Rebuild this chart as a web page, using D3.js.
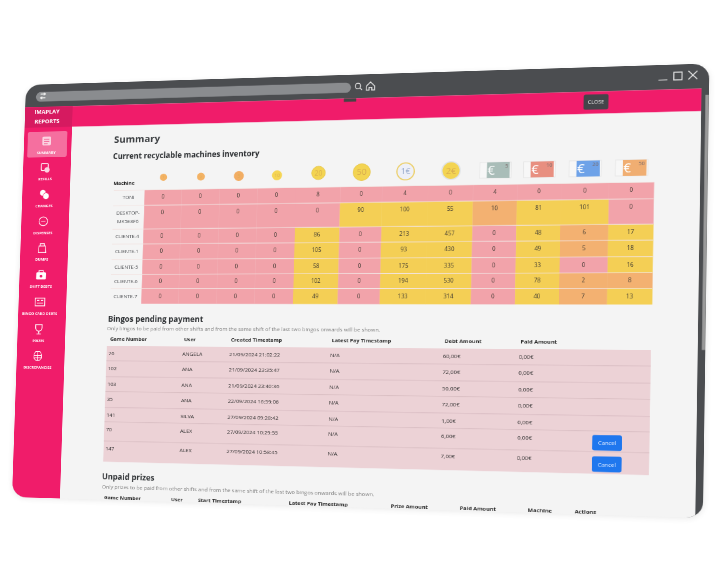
<!DOCTYPE html>
<html>
<head>
<meta charset="utf-8">
<script src="https://cdn.jsdelivr.net/npm/d3@7"></script>
<style>
html,body{margin:0;padding:0;background:#fff;width:720px;height:580px;overflow:hidden}
#win{position:absolute;left:0;top:0;width:1000px;height:640px;transform-origin:0 0}
svg{overflow:visible;display:block;filter:blur(.45px)}
text{font-family:"Open Sans",sans-serif}
</style>
</head>
<body>
<div id="win"></div>
<script>
// inventory table
const machines = ["TONI", "DESKTOP-|MK5E8F6", "CLIENTE-4", "CLIENTE-1", "CLIENTE-5", "CLIENTE-6", "CLIENTE-7"];
const denominations = ["1", "2", "5", "10", "20", "50", "1€", "2€", "5", "10", "20", "50"];
const inventory = [
  [0, 0, 0, 0, 8, 0, 4, 0, 4, 0, 0, 0],
  [0, 0, 0, 0, 0, 90, 100, 55, 10, 81, 101, 0],
  [0, 0, 0, 0, 86, 0, 213, 457, 0, 48, 6, 17],
  [0, 0, 0, 0, 105, 0, 93, 430, 0, 49, 5, 18],
  [0, 0, 0, 0, 58, 0, 175, 335, 0, 33, 0, 16],
  [0, 0, 0, 0, 102, 0, 194, 530, 0, 78, 2, 8],
  [0, 0, 0, 0, 49, 0, 133, 314, 0, 40, 7, 13]
];
// 0 empty, 1 low, 2 ok
const inventoryLevel = [
  [0, 0, 0, 0, 0, 0, 0, 0, 0, 0, 0, 0],
  [0, 0, 0, 0, 0, 2, 2, 2, 1, 2, 2, 0],
  [0, 0, 0, 0, 2, 0, 2, 2, 0, 2, 1, 2],
  [0, 0, 0, 0, 2, 0, 2, 2, 0, 2, 1, 2],
  [0, 0, 0, 0, 2, 0, 2, 2, 0, 2, 0, 2],
  [0, 0, 0, 0, 2, 0, 2, 2, 0, 2, 1, 1],
  [0, 0, 0, 0, 2, 0, 2, 2, 0, 2, 1, 2]
];

// bingos table
const bingoHeaders = ["Game Number", "User", "Created Timestamp", "Latest Pay Timestamp", "Debt Amount", "Paid Amount"];
const bingoGames = ["76", "102", "103", "35", "141", "70", "147"];
const bingoUsers = ["ANGELA", "ANA", "ANA", "ANA", "SILVA", "ALEX", "ALEX"];
const bingoCreated = ["21/09/2024 21:02:22", "21/09/2024 23:35:47", "21/09/2024 23:40:36", "22/09/2024 16:59:06", "27/09/2024 09:28:42", "27/09/2024 10:29:55", "27/09/2024 10:58:45"];
const bingoLatest = ["N/A", "N/A", "N/A", "N/A", "N/A", "N/A", "N/A"];
const bingoDebt = ["60,00€", "72,00€", "50,00€", "72,00€", "1,00€", "6,00€", "7,00€"];
const bingoPaid = ["0,00€", "0,00€", "0,00€", "0,00€", "0,00€", "0,00€", "0,00€"];
const bingoCancel = [false, false, false, false, false, true, true];

const prizeHeaders = ["Game Number", "User", "Start Timestamp", "Latest Pay Timestamp", "Prize Amount", "Paid Amount", "Machine", "Actions"];
const navLabels = ["SUMMARY", "REFILLS", "CHANGES", "DISPENSES", "DUMPS", "SHIFT DEBTS", "BINGO CARD DEBTS", "PRIZES", "DISCREPANCIES"];

// the flat page is W x H, a homography tilts it onto the photographed window
const W = 1000, H = 640;
const corners = [[26, 85], [709.5, 63.5], [703, 518], [12, 497]];
const [p0, p1, p2, p3] = corners;
const den = (p1[0]-p2[0])*(p3[1]-p2[1]) - (p3[0]-p2[0])*(p1[1]-p2[1]);
const sx = p0[0]-p1[0]+p2[0]-p3[0], sy = p0[1]-p1[1]+p2[1]-p3[1];
const g0 = (sx*(p3[1]-p2[1]) - (p3[0]-p2[0])*sy) / den;
const h0 = ((p1[0]-p2[0])*sy - sx*(p1[1]-p2[1])) / den;
const m = {
  a: (p1[0]-p0[0]+g0*p1[0])/W, b: (p3[0]-p0[0]+h0*p3[0])/H, c: p0[0],
  d: (p1[1]-p0[1]+g0*p1[1])/W, e: (p3[1]-p0[1]+h0*p3[1])/H, f: p0[1],
  g: g0/W, h: h0/H
};
d3.select("#win").style("transform",
  `matrix3d(${m.a},${m.d},0,${m.g},${m.b},${m.e},0,${m.h},0,0,1,0,${m.c},${m.f},0,1)`);

// picture position -> flat page position
function at(px, py) {
  const A = m.a-m.g*px, B = m.b-m.h*px, C = px-m.c;
  const D = m.d-m.g*py, E = m.e-m.h*py, F = py-m.f;
  const q = A*E-B*D;
  return [(C*E-B*F)/q, (A*F-C*D)/q];
}
const X = (px, py) => at(px, py)[0];
const Y = (px, py) => at(px, py)[1];

const svg = d3.select("#win").append("svg").attr("width", W).attr("height", H);
const defs = svg.append("defs");
defs.append("clipPath").attr("id", "frame").append("rect")
  .attr("width", W).attr("height", H).attr("rx", 22);
defs.append("filter").attr("id", "soft").attr("x", "-5%").attr("y", "-5%").attr("width", "110%").attr("height", "110%")
  .append("feGaussianBlur").attr("stdDeviation", 4);

svg.append("rect").attr("x", -1).attr("y", 2).attr("width", W+2).attr("height", H)
  .attr("rx", 22).attr("fill", "#000").attr("opacity", .08).attr("filter", "url(#soft)");

const page = svg.append("g").attr("clip-path", "url(#frame)");

const barY = Y(365, 98), headY = Y(400, 118.5);
const sideX = X(66, 312), rightX = X(698.5, 300);

page.append("rect").attr("width", W).attr("height", H).attr("fill", "#4b4d50");
page.append("rect").attr("x", 0).attr("y", barY).attr("width", rightX).attr("height", H-barY).attr("fill", "#f4f4f4");
page.append("rect").attr("x", 0).attr("y", barY).attr("width", rightX).attr("height", headY-barY).attr("fill", "#f01c6a");
page.append("rect").attr("x", 0).attr("y", barY).attr("width", sideX).attr("height", H-barY).attr("fill", "#f01c6a");
page.append("rect").attr("x", 0).attr("y", barY).attr("width", sideX).attr("height", headY-barY).attr("fill", "#d61a60");

// scrollbar on the dark strip
page.append("rect").attr("x", X(704, 200)).attr("y", Y(704, 95)).attr("width", 4.5)
  .attr("height", Y(702, 350)-Y(704, 95)).attr("fill", "#9a9a9a");

// address bar
const barTop = at(36, 97);
page.append("rect").attr("x", barTop[0]).attr("y", barTop[1]-7.5)
  .attr("width", X(351, 86)-barTop[0]).attr("height", 15).attr("rx", 7.5).attr("fill", "#8a8c8f");
const swapIcon = at(43, 96);
page.append("path").attr("transform", `translate(${swapIcon})`)
  .attr("d", "M-4,-3H4M1,-5L4,-3L1,-1M4,3H-4M-1,1L-4,3L-1,5")
  .attr("fill", "none").attr("stroke", "#eee").attr("stroke-width", 1.5);

const chrome = page.append("g").attr("fill", "none").attr("stroke", "#e6e6e6").attr("stroke-width", 1.4);
const lens = at(358, 86);
chrome.append("path").attr("transform", `translate(${lens})`).attr("d", "M2.5,2.5L6,6");
chrome.append("circle").attr("transform", `translate(${lens})`).attr("r", 4);
const home = at(370.5, 86);
chrome.append("path").attr("transform", `translate(${home})`).attr("d", "M-6,0L0,-6L6,0V6H2V2H-2V6H-6Z");
const minBtn = at(663, 80), maxBtn = at(678, 76), closeBtn = at(693, 75);
chrome.append("path").attr("transform", `translate(${minBtn})`).attr("d", "M-6,0H6");
chrome.append("rect").attr("transform", `translate(${maxBtn})`).attr("x", -5.5).attr("y", -5.5).attr("width", 11).attr("height", 11);
chrome.append("path").attr("transform", `translate(${closeBtn})`).attr("d", "M-6,-6L6,6M6,-6L-6,6");

// small tab under the address bar and the close button
const tab = at(350, 100);
page.append("rect").attr("x", tab[0]-9).attr("y", barY).attr("width", 18).attr("height", 5).attr("fill", "#444");
const closeAt = at(596, 102);
page.append("rect").attr("x", closeAt[0]-17).attr("y", closeAt[1]-11).attr("width", 34).attr("height", 22)
  .attr("rx", 3).attr("fill", "#44454a");
page.append("text").attr("x", closeAt[0]).attr("y", closeAt[1]+2.5).attr("text-anchor", "middle")
  .attr("font-size", 7.5).attr("fill", "#eee").text("CLOSE");

// logo
const logo = page.append("g").attr("fill", "#fff").attr("font-weight", 700).attr("font-size", 9).attr("text-anchor", "middle");
logo.append("text").attr("x", X(47, 112)).attr("y", Y(47, 112)+3).text("IMAPLAY");
logo.append("text").attr("x", X(47, 121.5)).attr("y", Y(47, 121.5)+3).text("REPORTS");

// sidebar
const navY = d3.scalePoint().domain(navLabels).range([Y(45, 141), Y(39, 356)]);
const navX = X(43, 250);
const summaryBox = at(28, 132);
page.append("rect").attr("x", summaryBox[0]).attr("y", summaryBox[1])
  .attr("width", X(67, 145)-summaryBox[0]).attr("height", 40).attr("rx", 3).attr("fill", "#f56f9f");

const navIcons = [
  g => { g.append("rect").attr("x", -8).attr("y", -8).attr("width", 16).attr("height", 16).attr("rx", 2).attr("fill", "#fbd3e1");
         g.append("path").attr("d", "M-5,-3H5M-5,1H5M-5,5H2").attr("stroke", "#f56f9f").attr("stroke-width", 1.5); },
  g => { g.append("rect").attr("x", -8).attr("y", -8).attr("width", 13).attr("height", 13).attr("rx", 2).attr("fill", "none").attr("stroke", "#fff").attr("stroke-width", 1.5);
         g.append("circle").attr("cx", 3).attr("cy", 4).attr("r", 5).attr("fill", "#fbd3e1"); },
  g => { g.append("circle").attr("cx", -3).attr("cy", -3).attr("r", 5.5).attr("fill", "#fff");
         g.append("circle").attr("cx", 3).attr("cy", 3).attr("r", 6).attr("fill", "#fff").attr("stroke", "#f01c6a"); },
  g => { g.append("circle").attr("r", 8).attr("fill", "none").attr("stroke", "#fff").attr("stroke-width", 1.4);
         g.append("path").attr("d", "M-4,0H4").attr("stroke", "#fff").attr("stroke-width", 1.4); },
  g => { g.append("path").attr("d", "M-6,-4H6L7,8H-7ZM-4,-4V-8H4V-4").attr("fill", "none").attr("stroke", "#fff").attr("stroke-width", 1.4); },
  g => { g.append("rect").attr("x", -9).attr("y", -5).attr("width", 18).attr("height", 13).attr("rx", 2).attr("fill", "#fff");
         g.append("path").attr("d", "M-4,-5V-8H4V-5").attr("fill", "none").attr("stroke", "#fff").attr("stroke-width", 1.5);
         g.append("circle").attr("cy", 2).attr("r", 2.5).attr("fill", "#f01c6a"); },
  g => { g.append("rect").attr("x", -9).attr("y", -7).attr("width", 18).attr("height", 14).attr("fill", "none").attr("stroke", "#fff").attr("stroke-width", 1.4);
         g.append("path").attr("d", "M-6,-3H-1M2,-3H6M-6,2H6").attr("stroke", "#fff").attr("stroke-width", 1.4); },
  g => { g.append("path").attr("d", "M-6,-8H6V-2A6,6 0 0 1 -6,-2ZM0,4V8M-4,9H4").attr("fill", "none").attr("stroke", "#fff").attr("stroke-width", 1.5); },
  g => { g.append("path").attr("d", "M-4,-8H4L7,-3V4L3,8H-3L-7,4V-3ZM-7,-1H7M-7,3H7M0,-8V8").attr("fill", "none").attr("stroke", "#fff").attr("stroke-width", 1.2); }
];
navLabels.forEach((label, i) => {
  const shift = -i*0.35;
  const g = page.append("g").attr("transform", `translate(${navX+shift},${navY(label)}) scale(.85)`);
  navIcons[i](g);
  page.append("text").attr("x", navX+shift).attr("y", navY(label)+20).attr("text-anchor", "middle")
    .attr("font-size", 5.8).attr("font-weight", 700).attr("fill", "#fff").text(label);
});

// titles
function title(px, py, size, txt, weight, color) {
  const p = at(px, py);
  page.append("text").attr("x", p[0]).attr("y", p[1]).attr("font-size", size)
    .attr("font-weight", weight).attr("fill", color).text(txt);
}
title(114, 143, 15, "Summary", 700, "#3a3d40");
title(113, 159, 11.6, "Current recyclable machines inventory", 700, "#2f3235");
title(108, 322, 11.9, "Bingos pending payment", 700, "#2f3235");
title(107, 330.5, 8, "Only bingos to be paid from other shifts and from the same shift of the last two bingos onwards will be shown.", 400, "#7f7f7f");
title(102, 479, 11.9, "Unpaid prizes", 700, "#2f3235");
title(102, 488.5, 8, "Only prizes to be paid from other shifts and from the same shift of the last two bingos onwards will be shown.", 400, "#7f7f7f");

// inventory table scales
const colPx = [143, 180, 218, 256, 294.5, 339, 381, 427, 472, 516, 560, 608, 653];
const rowPx = [186, 202, 226.5, 242, 258, 273.5, 288.5, 304];
const colX = d3.scaleLinear().domain(d3.range(colPx.length)).range(colPx.map(x => X(x, 245)));
const rowY = d3.scaleLinear().domain(d3.range(rowPx.length)).range(rowPx.map(y => Y(400, y)));
const levelColor = d3.scaleOrdinal().domain([0, 1, 2]).range(["#f2a3aa", "#f3b171", "#f4cf55"]);

const cells = inventory.flatMap((row, r) => row.map((v, c) => ({r, c, v, level: inventoryLevel[r][c]})));
page.append("g").selectAll("rect").data(cells).join("rect")
  .attr("x", d => colX(d.c)).attr("y", d => rowY(d.r))
  .attr("width", d => colX(d.c+1)-colX(d.c)+.3).attr("height", d => rowY(d.r+1)-rowY(d.r)+.3)
  .attr("fill", d => levelColor(d.level));
page.append("g").selectAll("text").data(cells).join("text")
  .attr("x", d => (colX(d.c)+colX(d.c+1))/2).attr("y", d => rowY(d.r)+14)
  .attr("text-anchor", "middle").attr("font-size", 8.2).attr("fill", "#3f3a32").text(d => d.v);

const labelLeft = X(112, 245);
page.append("g").selectAll("line").data(d3.range(machines.length)).join("line")
  .attr("x1", labelLeft).attr("x2", colX(12)).attr("y1", d => rowY(d)).attr("y2", d => rowY(d))
  .attr("stroke", "#f2e4e2").attr("stroke-width", 1);

const labelX = X(127, 245);
machines.forEach((name, r) => {
  name.split("|").forEach((part, k) => {
    page.append("text").attr("x", labelX).attr("y", rowY(r)+14+k*13).attr("text-anchor", "middle")
      .attr("font-size", 7.8).attr("fill", "#484b4f").text(part);
  });
});
const machineHead = at(124, 185);
page.append("text").attr("x", machineHead[0]).attr("y", machineHead[1]).attr("text-anchor", "middle")
  .attr("font-size", 7.8).attr("font-weight", 700).attr("fill", "#222").text("Machine");

// coins and notes above the columns
const iconY = Y(400, 171.5);
const coinFill = ["#f3b264", "#f3b264", "#f2ad63", "#f5d555", "#f3d452", "#f3d452", "#eef0f8", "#f3d452"];
const coinStroke = ["none", "none", "none", "none", "#e8c84c", "#e8c84c", "#eccf6a", "#dfe3e6"];
const coinR = d3.scaleOrdinal().domain(d3.range(8)).range([5.5, 6, 7.5, 7.5, 10, 12.5, 12.5, 13]);
const coinG = page.append("g");
denominations.slice(0, 8).forEach((label, i) => {
  const cx = (colX(i)+colX(i+1))/2, cy = iconY + (i < 4 ? 2.5 : 0), r = coinR(i);
  coinG.append("circle").attr("cx", cx).attr("cy", cy).attr("r", r).attr("fill", coinFill[i])
    .attr("stroke", coinStroke[i]).attr("stroke-width", i > 5 ? 1.8 : 1);
  coinG.append("text").attr("x", cx).attr("y", cy+r*.36).attr("text-anchor", "middle")
    .attr("font-size", r).attr("fill", i === 6 ? "#9fb0cf" : "#d9ad50").text(label);
});
const noteFill = ["#a9bdb8", "#e88f80", "#6ea2e8", "#f0ae72"];
const noteG = page.append("g");
denominations.slice(8).forEach((label, i) => {
  const cx = (colX(i+8)+colX(i+9))/2;
  noteG.append("rect").attr("x", cx-22).attr("y", iconY-11).attr("width", 44).attr("height", 23).attr("fill", "#f7f7f7").attr("stroke", "#e6e6e6");
  noteG.append("rect").attr("x", cx-12).attr("y", iconY-11).attr("width", 32).attr("height", 23).attr("fill", noteFill[i]);
  noteG.append("text").attr("x", cx-6).attr("y", iconY+7).attr("font-size", 18).attr("fill", "#fff").attr("text-anchor", "middle").text("€");
  noteG.append("text").attr("x", cx+18).attr("y", iconY-3).attr("font-size", 7.5).attr("fill", "#7a6a6a").attr("text-anchor", "end").text(label);
});

// bingos table
const bingoFields = ["game", "user", "created", "latest", "debt", "paid"];
const bingoX = d3.scaleOrdinal().domain(bingoFields)
  .range([107, 181, 228, 329, 442, 518].map(x => X(x, 400)));
const bingoRowPx = [348, 363.5, 380, 395.5, 412, 427, 447, 468.5];
const bingoY = d3.scaleLinear().domain(d3.range(bingoRowPx.length)).range(bingoRowPx.map(y => Y(380, y)));
const tableLeft = X(105, 404), tableRight = X(650, 412);

const bingoRows = bingoGames.map((game, i) => ({i, game, user: bingoUsers[i], created: bingoCreated[i],
  latest: bingoLatest[i], debt: bingoDebt[i], paid: bingoPaid[i], cancel: bingoCancel[i]}));

page.append("rect").attr("x", tableLeft).attr("y", bingoY(0)).attr("width", tableRight-tableLeft)
  .attr("height", bingoY(7)-bingoY(0)).attr("fill", "#ecd2d6");
page.append("g").selectAll("line").data(d3.range(1, 7)).join("line")
  .attr("x1", tableLeft).attr("x2", tableRight).attr("y1", d => bingoY(d)).attr("y2", d => bingoY(d))
  .attr("stroke", "#d8bdc2").attr("stroke-width", 1);

const headerY = bingoY(0)-8;
page.append("g").selectAll("text").data(bingoHeaders).join("text")
  .attr("x", (d, i) => bingoX(bingoFields[i])+2).attr("y", headerY)
  .attr("font-size", 7.8).attr("font-weight", 700).attr("fill", "#2b2b2b").text(d => d);

bingoFields.forEach(f => {
  page.append("g").selectAll("text").data(bingoRows).join("text")
    .attr("x", bingoX(f)).attr("y", d => bingoY(d.i)+14)
    .attr("font-size", 8).attr("fill", "#2f2f2f").text(d => d[f]);
});

const cancelX = X(607, 450);
const cancels = page.append("g").selectAll("g").data(bingoRows.filter(d => d.cancel)).join("g")
  .attr("transform", d => `translate(${cancelX},${(bingoY(d.i)+bingoY(d.i+1))/2+2})`);
cancels.append("rect").attr("x", -20).attr("y", -11).attr("width", 40).attr("height", 22).attr("rx", 3).attr("fill", "#1f77ee");
cancels.append("text").attr("y", 3).attr("text-anchor", "middle").attr("font-size", 8).attr("fill", "#dce9ff").text("Cancel");

// unpaid prizes header, cut by the bottom of the window
const prizeX = d3.scaleOrdinal().domain(prizeHeaders).range([104, 171, 198, 289, 391, 460, 528, 575].map(x => X(x, 500)));
page.append("g").selectAll("text").data(prizeHeaders).join("text")
  .attr("x", d => prizeX(d)).attr("y", Y(400, 508))
  .attr("font-size", 7.8).attr("font-weight", 700).attr("fill", "#2b2b2b").text(d => d);
</script>
</body>
</html>
